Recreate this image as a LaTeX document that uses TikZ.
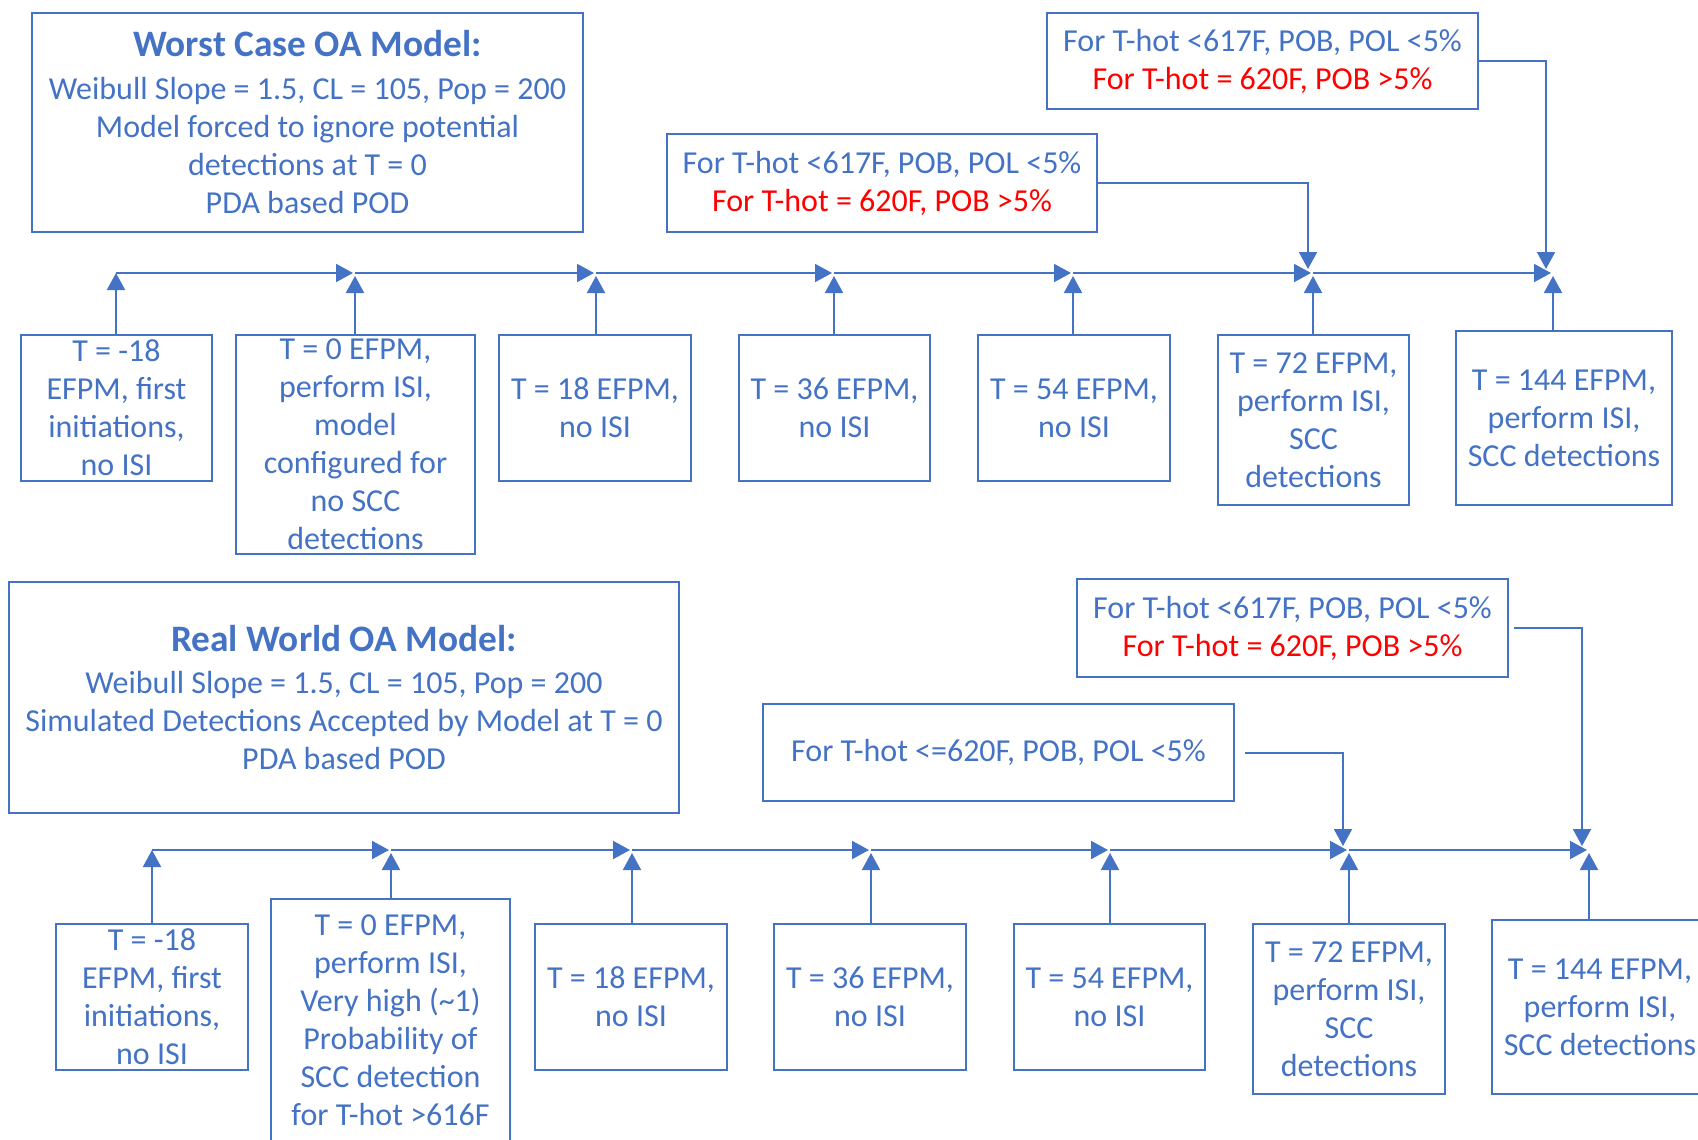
\documentclass[tikz,border=0pt]{standalone}
\usepackage{fontspec}
\setmainfont{Carlito}
\usetikzlibrary{arrows.meta}
\definecolor{oablue}{HTML}{4472C4}
\definecolor{hotred}{HTML}{FF0000}
\newcommand\oatitle[1]{{\fontsize{18.67}{22}\selectfont\bfseries #1}}
\begin{document}
\begin{tikzpicture}[
		x={(0.5pt,0pt)},
		y={(0pt,-0.5pt)},
		box/.style={draw=oablue,line width=1pt,text=oablue,align=center,inner sep=0pt,font=\fontsize{16}{19}\selectfont},
		conn/.style={draw=oablue,line width=1pt,-{Triangle[length=8.5pt,width=9pt]}},
	]
		\useasboundingbox (0,0) rectangle (1698,1140);
		\clip (0,0) rectangle (1698,1140);
		
		\node[box,minimum width=275.5pt,minimum height=109.5pt] (worst) at (307.5,122.5) {\oatitle{Worst Case OA Model:}\\[2.5pt]Weibull Slope = 1.5, CL = 105, Pop = 200\\Model forced to ignore potential\\detections at T = 0\\PDA based POD};
		\node[box,minimum width=215.5pt,minimum height=48pt] (hotA) at (1262.5,61) {For T-hot <617F, POB, POL <5\%\\\textcolor{hotred}{For T-hot = 620F, POB >5\%}};
		\node[box,minimum width=215pt,minimum height=49pt] (hotB) at (882,183) {For T-hot <617F, POB, POL <5\%\\\textcolor{hotred}{For T-hot = 620F, POB >5\%}};
		
		\node[box,minimum width=335pt,minimum height=115.5pt] (real) at (344,697.5) {\oatitle{Real World OA Model:}\\[2pt]Weibull Slope = 1.5, CL = 105, Pop = 200\\Simulated Detections Accepted by Model at T = 0\\PDA based POD};
		\node[box,minimum width=215.5pt,minimum height=49pt] (hotC) at (1292.5,628) {For T-hot <617F, POB, POL <5\%\\\textcolor{hotred}{For T-hot = 620F, POB >5\%}};
		\node[box,minimum width=235.5pt,minimum height=48.5pt] (hotD) at (998.5,752.5) {For T-hot <=620F, POB, POL <5\%};
		
		\foreach \i/\x/\y/\c/\w/\h/\txt in {1/116.5/408/116/191/146/{T = -18\\EFPM, first\\initiations,\\no ISI},
			2/355.5/444.5/355/239/219/{T = 0 EFPM,\\perform ISI,\\model\\configured for\\no SCC\\detections},
			3/595/408/596/192/146/{T = 18 EFPM,\\no ISI},
			4/834.5/408/834/191/146/{T = 36 EFPM,\\no ISI},
			5/1074/408/1073/192/146/{T = 54 EFPM,\\no ISI},
			6/1313.5/420/1313/191/170/{T = 72 EFPM,\\perform ISI,\\SCC\\detections},
			7/1564/418/1553/216/174/{T = 144 EFPM,\\perform ISI,\\SCC detections}}{
			\node[box,minimum width=\w*0.5pt,minimum height=\h*0.5pt] (t\i) at (\x,\y) {\txt};
			\coordinate (jt\i) at (\c,273);
		}
		
		\foreach \i/\x/\y/\c/\w/\h/\txt in {1/152/997/152/192/146/{T = -18\\EFPM, first\\initiations,\\no ISI},
			2/390.5/1020.5/391/239/243/{T = 0 EFPM,\\perform ISI,\\Very high (\textasciitilde1)\\Probability of\\SCC detection\\for T-hot >616F},
			3/631/997/632/192/146/{T = 18 EFPM,\\no ISI},
			4/870/997/871/192/146/{T = 36 EFPM,\\no ISI},
			5/1109.5/997/1110/191/146/{T = 54 EFPM,\\no ISI},
			6/1349/1009/1349/192/170/{T = 72 EFPM,\\perform ISI,\\SCC\\detections},
			7/1600/1007/1589/216/174/{T = 144 EFPM,\\perform ISI,\\SCC detections}}{
			\node[box,minimum width=\w*0.5pt,minimum height=\h*0.5pt] (b\i) at (\x,\y) {\txt};
			\coordinate (jb\i) at (\c,850);
		}
		
		\draw[conn] (jt1 |- t1.north) -- (jt1);
		\draw[conn] (jb1 |- b1.north) -- (jb1);
		\foreach \p/\i in {1/2,2/3,3/4,4/5,5/6,6/7}{
			\draw[conn] (jt\p) -- ([xshift=-1pt]jt\i);
			\draw[conn] (jt\i |- t\i.north) -- ([yshift=-1.5pt]jt\i);
			\draw[conn] (jb\p) -- ([xshift=-1pt]jb\i);
			\draw[conn] (jb\i |- b\i.north) -- ([yshift=-1.5pt]jb\i);
		}
		
		\draw[conn] (hotA.east) -| ([xshift=-3.5pt,yshift=2pt]jt7);
		\draw[conn] (hotB.east) -| ([xshift=-2.5pt,yshift=2pt]jt6);
		\draw[conn,shorten <=2.5pt] (hotC.east) -| ([xshift=-3.5pt,yshift=2pt]jb7);
		\draw[conn,shorten <=5pt] (hotD.east) -| ([xshift=-3pt,yshift=2pt]jb6);
	\end{tikzpicture}
\end{document}
